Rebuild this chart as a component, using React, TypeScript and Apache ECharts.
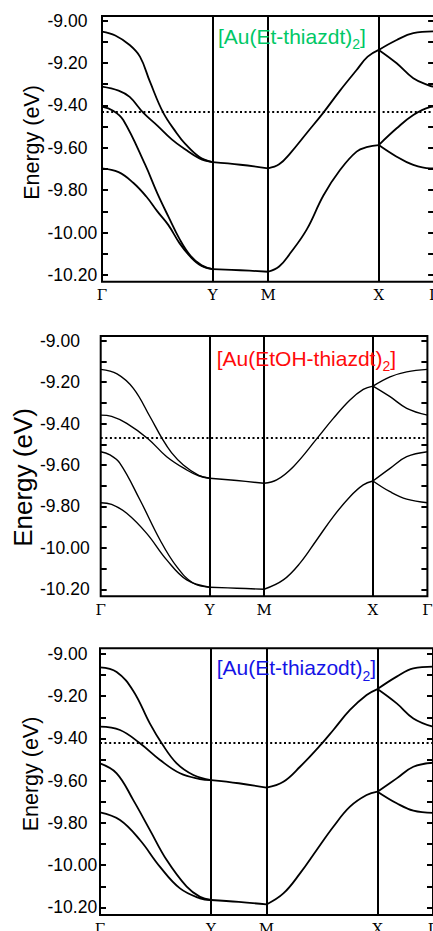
import React, { useEffect, useRef } from "react";
import * as echarts from "echarts";

// k-path positions and labels
const KPOINT_POS = [0, 1, 1.5, 2.5, 3];
const KPOINT_LABELS = ["Γ", "Y", "M", "X", "Γ"];
const Y_TICKS = [-10.2, -10.1, -10.0, -9.9, -9.8, -9.7, -9.6, -9.5, -9.4, -9.3, -9.2, -9.1, -9.0];
const Y_LABELS = [-10.2, -10.0, -9.8, -9.6, -9.4, -9.2, -9.0];
const TITLES = ["[Au(Et-thiazdt)", "[Au(EtOH-thiazdt)", "[Au(Et-thiazodt)"];
const TITLE_SUB = "2";
const TITLE_END = "]";
const TITLE_COLORS = ["#00c866", "#ff0a0a", "#1414e6"];
const FERMI = [-9.434, -9.474, -9.423];

// ---------- Panel 1 : [Au(Et-thiazdt)2] ----------
const P1_GY_1 = [[0, -9.052], [0.12, -9.07], [0.25, -9.115], [0.343, -9.17], [0.433, -9.288], [0.553, -9.434], [0.675, -9.531], [0.75, -9.58], [0.88, -9.643], [1, -9.668]];
const P1_GY_2 = [[0, -9.311], [0.15, -9.33], [0.25, -9.36], [0.372, -9.434], [0.5, -9.495], [0.63, -9.56], [0.75, -9.607], [0.88, -9.65], [1, -9.668]];
const P1_GY_3 = [[0, -9.406], [0.1, -9.425], [0.192, -9.469], [0.39, -9.68], [0.5, -9.815], [0.6, -9.925], [0.7, -10.03], [0.8, -10.11], [0.9, -10.155], [1, -10.173]];
const P1_GY_4 = [[0, -9.697], [0.15, -9.715], [0.282, -9.765], [0.4, -9.83], [0.5, -9.9], [0.6, -9.965], [0.7, -10.05], [0.8, -10.115], [0.9, -10.158], [1, -10.173]];
const P1_YM_UP = [[1, -9.668], [1.25, -9.68], [1.5, -9.697]];
const P1_YM_LO = [[1, -10.173], [1.25, -10.178], [1.5, -10.185]];
const P1_MX_UP = [[1.5, -9.697], [1.6, -9.678], [1.7, -9.626], [1.85, -9.53], [2.0, -9.434], [2.15, -9.33], [2.3, -9.233], [2.4, -9.17], [2.5, -9.138]];
const P1_MX_LO = [[1.5, -10.185], [1.6, -10.16], [1.7, -10.098], [1.85, -9.985], [2.0, -9.825], [2.15, -9.705], [2.3, -9.618], [2.4, -9.596], [2.5, -9.587]];
const P1_XG_1 = [[2.5, -9.138], [2.662, -9.091], [2.812, -9.059], [3, -9.051]];
const P1_XG_2 = [[2.5, -9.138], [2.662, -9.201], [2.812, -9.272], [2.963, -9.308], [3, -9.311]];
const P1_XG_3 = [[2.5, -9.587], [2.662, -9.508], [2.812, -9.445], [2.963, -9.408], [3, -9.406]];
const P1_XG_4 = [[2.5, -9.587], [2.662, -9.642], [2.812, -9.681], [2.963, -9.697], [3, -9.697]];

// ---------- Panel 2 : [Au(EtOH-thiazdt)2] ----------
const P2_GY_1 = [[0, -9.138], [0.15, -9.16], [0.3, -9.23], [0.453, -9.367], [0.566, -9.474], [0.65, -9.54], [0.759, -9.6], [0.9, -9.65], [1, -9.664]];
const P2_GY_2 = [[0, -9.359], [0.1, -9.365], [0.239, -9.399], [0.437, -9.474], [0.606, -9.56], [0.79, -9.624], [0.9, -9.652], [1, -9.664]];
const P2_GY_3 = [[0, -9.536], [0.08, -9.55], [0.177, -9.592], [0.361, -9.769], [0.545, -9.962], [0.698, -10.091], [0.851, -10.171], [1, -10.19]];
const P2_GY_4 = [[0, -9.782], [0.1, -9.79], [0.239, -9.833], [0.422, -9.93], [0.606, -10.058], [0.79, -10.155], [1, -10.19]];
const P2_YM_UP = [[1, -9.664], [1.25, -9.675], [1.5, -9.688]];
const P2_YM_LO = [[1, -10.19], [1.25, -10.195], [1.5, -10.2]];
const P2_MX_UP = [[1.5, -9.688], [1.616, -9.672], [1.769, -9.608], [1.983, -9.474], [2.136, -9.375], [2.289, -9.286], [2.411, -9.235], [2.5, -9.219]];
const P2_MX_LO = [[1.5, -10.2], [1.677, -10.155], [1.83, -10.074], [1.983, -9.962], [2.136, -9.849], [2.289, -9.753], [2.411, -9.696], [2.5, -9.677]];
const P2_XG_1 = [[2.5, -9.219], [2.657, -9.174], [2.81, -9.15], [3, -9.138]];
const P2_XG_2 = [[2.5, -9.219], [2.657, -9.27], [2.81, -9.326], [3, -9.359]];
const P2_XG_3 = [[2.5, -9.677], [2.657, -9.616], [2.81, -9.56], [3, -9.536]];
const P2_XG_4 = [[2.5, -9.677], [2.657, -9.729], [2.81, -9.765], [3, -9.782]];

// ---------- Panel 3 : [Au(Et-thiazodt)2] ----------
const P3_GY_1 = [[0, -9.063], [0.15, -9.085], [0.3, -9.175], [0.45, -9.33], [0.556, -9.423], [0.691, -9.518], [0.841, -9.573], [1, -9.597]];
const P3_GY_2 = [[0, -9.344], [0.18, -9.36], [0.36, -9.423], [0.541, -9.502], [0.721, -9.565], [0.9, -9.592], [1, -9.597]];
const P3_GY_3 = [[0, -9.518], [0.15, -9.565], [0.3, -9.692], [0.45, -9.834], [0.601, -9.976], [0.781, -10.102], [0.901, -10.15], [1, -10.165]];
const P3_GY_4 = [[0, -9.75], [0.18, -9.786], [0.36, -9.881], [0.541, -10.008], [0.721, -10.11], [0.901, -10.157], [1, -10.165]];
const P3_YM_UP = [[1, -9.597], [1.25, -9.612], [1.5, -9.633]];
const P3_YM_LO = [[1, -10.165], [1.25, -10.174], [1.5, -10.186]];
const P3_MX_UP = [[1.5, -9.633], [1.652, -9.605], [1.802, -9.534], [2.0, -9.423], [2.102, -9.36], [2.252, -9.265], [2.402, -9.194], [2.5, -9.166]];
const P3_MX_LO = [[1.5, -10.186], [1.652, -10.134], [1.802, -10.039], [1.952, -9.928], [2.102, -9.818], [2.252, -9.723], [2.402, -9.668], [2.5, -9.652]];
const P3_XG_1 = [[2.5, -9.166], [2.673, -9.107], [2.823, -9.068], [3, -9.06]];
const P3_XG_2 = [[2.5, -9.166], [2.673, -9.234], [2.823, -9.305], [3, -9.344]];
const P3_XG_3 = [[2.5, -9.652], [2.673, -9.589], [2.823, -9.534], [3, -9.515]];
const P3_XG_4 = [[2.5, -9.652], [2.673, -9.707], [2.823, -9.742], [3, -9.752]];

const PANEL_BANDS = [
  [P1_GY_1, P1_GY_2, P1_GY_3, P1_GY_4, P1_YM_UP, P1_YM_LO, P1_MX_UP, P1_MX_LO, P1_XG_1, P1_XG_2, P1_XG_3, P1_XG_4],
  [P2_GY_1, P2_GY_2, P2_GY_3, P2_GY_4, P2_YM_UP, P2_YM_LO, P2_MX_UP, P2_MX_LO, P2_XG_1, P2_XG_2, P2_XG_3, P2_XG_4],
  [P3_GY_1, P3_GY_2, P3_GY_3, P3_GY_4, P3_YM_UP, P3_YM_LO, P3_MX_UP, P3_MX_LO, P3_XG_1, P3_XG_2, P3_XG_3, P3_XG_4],
];

// layout (pixels) for each panel
const LAYOUT = [
  { left: 102, top: 16, width: 332.1, height: 265.7, yMin: -10.232, yMax: -8.978, lw: 1.8, labelMargin: 54.5, nameX: 32, nameY: 142.5, nameSize: 21.5, titleLeft: 218, titleTop: 21 },
  { left: 100.7, top: 336, width: 326.7, height: 260.3, yMin: -10.234, yMax: -8.977, lw: 1.4, labelMargin: 60.7, nameX: 22.5, nameY: 477.5, nameSize: 26, titleLeft: 216.7, titleTop: 343 },
  { left: 100, top: 648.3, width: 333, height: 266.7, yMin: -10.236, yMax: -8.973, lw: 1.8, labelMargin: 52.5, nameX: 31, nameY: 774, nameSize: 21.5, titleLeft: 216.7, titleTop: 652.5 },
];

const SANS = '"Liberation Sans", Arial, Helvetica, sans-serif';

function buildOption() {
  const grid: any[] = [];
  const xAxis: any[] = [];
  const yAxis: any[] = [];
  const series: any[] = [];
  const title: any[] = [];
  const graphic: any[] = [];

  LAYOUT.forEach((L, i) => {
    grid.push({
      left: L.left, top: L.top, width: L.width, height: L.height,
      outerBoundsMode: "none", containLabel: false,
      show: true, borderColor: "#000", borderWidth: 2, backgroundColor: "transparent",
    });
    xAxis.push({
      type: "value", gridIndex: i, min: 0, max: 3,
      axisLine: { show: false }, axisTick: { show: false }, splitLine: { show: false },
      axisLabel: {
        customValues: KPOINT_POS,
        formatter: (v: number) => KPOINT_LABELS[KPOINT_POS.indexOf(v)] ?? "",
        fontFamily: '"DejaVu Serif", serif', fontSize: 15, color: "#000", margin: 6,
        hideOverlap: false,
      },
    });
    const tickCommon = {
      show: true, inside: true, length: 6, customValues: Y_TICKS,
      lineStyle: { color: "#000", width: 2 },
    };
    yAxis.push({
      type: "value", gridIndex: i, position: "left", min: L.yMin, max: L.yMax,
      axisLine: { show: false }, splitLine: { show: false },
      axisTick: tickCommon,
      axisLabel: {
        customValues: Y_LABELS,
        formatter: (v: number) => v.toFixed(2),
        align: "left", margin: L.labelMargin,
        fontFamily: SANS, fontSize: 17.5, color: "#000",
      },
    });
    yAxis.push({
      type: "value", gridIndex: i, position: "right", min: L.yMin, max: L.yMax,
      axisLine: { show: false }, splitLine: { show: false },
      axisTick: tickCommon, axisLabel: { show: false },
    });
    PANEL_BANDS[i].forEach((band, j) => {
      const s: any = {
        type: "line", xAxisIndex: i, yAxisIndex: 2 * i, data: band,
        smooth: 0.4, showSymbol: false, symbol: "none", silent: true,
        lineStyle: { color: "#000", width: L.lw },
        z: 3,
      };
      if (j === 0) {
        s.markLine = {
          silent: true, symbol: ["none", "none"], label: { show: false },
          animation: false,
          data: [
            ...KPOINT_POS.slice(1, 4).map((k) => ({ xAxis: k, lineStyle: { type: "solid", color: "#000", width: 2 } })),
            { yAxis: FERMI[i], lineStyle: { type: [2, 2.6], color: "#000", width: 2.2 } },
          ],
        };
      }
      series.push(s);
    });
    title.push({
      text: `{a|${TITLES[i]}}{s|${TITLE_SUB}}{a|${TITLE_END}}`,
      left: L.titleLeft, top: L.titleTop, padding: 0,
      textStyle: {
        fontWeight: "normal",
        rich: {
          a: { fontFamily: SANS, fontSize: 21, fontWeight: "normal", color: TITLE_COLORS[i], lineHeight: 30 },
          s: { fontFamily: SANS, fontSize: 14, fontWeight: "normal", color: TITLE_COLORS[i], lineHeight: 14, verticalAlign: "bottom" },
        },
      },
    });
    graphic.push({
      type: "text", x: L.nameX, y: L.nameY, rotation: Math.PI / 2, silent: true,
      style: {
        text: "Energy (eV)", fill: "#000", fontFamily: SANS, fontSize: L.nameSize,
        align: "center", verticalAlign: "middle", textAlign: "center", textVerticalAlign: "middle",
      },
    });
  });

  return { animation: false, backgroundColor: "#fff", grid, xAxis, yAxis, series, title, graphic };
}

export default function App() {
  const ref = useRef<HTMLDivElement>(null);
  useEffect(() => {
    if (!ref.current) return;
    const chart = echarts.init(ref.current, undefined, { renderer: "svg" });
    chart.setOption(buildOption() as any);
    return () => chart.dispose();
  }, []);
  return <div ref={ref} style={{ position: "absolute", left: 0, top: 0, width: 433, height: 931 }} />;
}
